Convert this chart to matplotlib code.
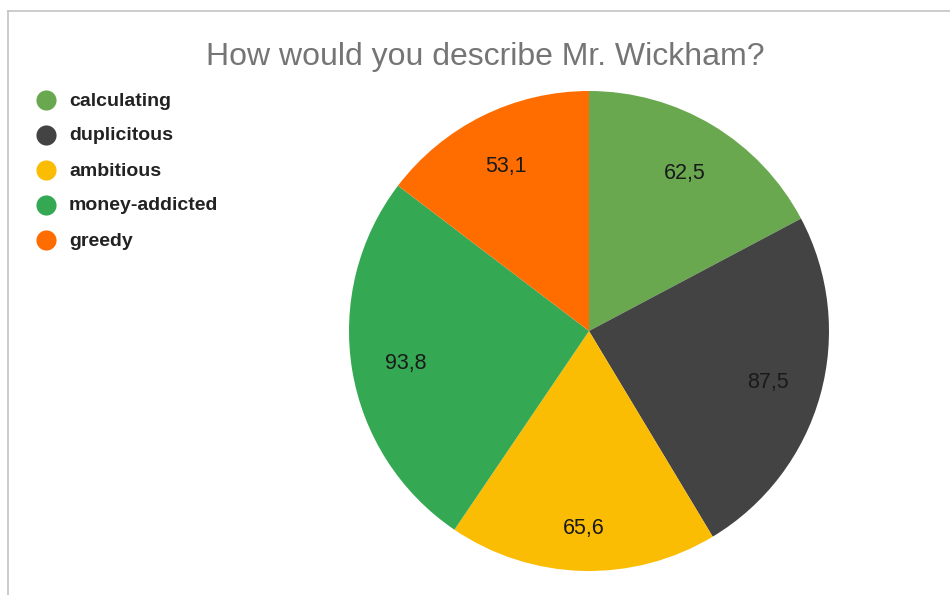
import matplotlib.pyplot as plt
import matplotlib.transforms as mtransforms
from matplotlib.lines import Line2D

plt.rcParams['font.family'] = ['Liberation Sans', 'DejaVu Sans']

# antworten und prozente
kategorie = ["calculating", "duplicitous", "ambitious", "money-addicted", "greedy"]
wartosci = [62.5, 87.5, 65.6, 93.8, 53.1]
kolory = ["#6aa84f", "#434343", "#fbbc04", "#34a853", "#ff6d01"]
tytul = "How would you describe Mr. Wickham?"

W, H = 950, 595
fig = plt.figure(figsize=(W / 100, H / 100), dpi=100)
fig.patch.set_facecolor("white")

# kolo: srodek (589, 331), promien 240 px
ax = fig.add_axes([(589 - 240) / W, (H - 571) / H, 480 / W, 480 / H])
wedges, teksty = ax.pie(
    wartosci,
    colors=kolory,
    startangle=90,
    counterclock=False,
    labels=[f"{v:.1f}".replace(".", ",") for v in wartosci],
    labeldistance=0.775,
    wedgeprops=dict(linewidth=0),
    textprops=dict(fontsize=15.5, color="#1a1a1a"),
)
for i, t in enumerate(teksty):
    t.set_horizontalalignment("center")
    t.set_verticalalignment("center")
    # etykieta na dole kola jest odsunieta troche dalej
    dy = -12 if i == 2 else -2
    t.set_transform(t.get_transform() +
                    mtransforms.ScaledTranslation(0, dy / 100, fig.dpi_scale_trans))
ax.set_xlim(-1, 1)
ax.set_ylim(-1, 1)
ax.set_aspect("equal")

fig.text(485 / W, 1 - 57 / H, tytul, ha="center", va="center",
         fontsize=23, color="#757575")

# legenda po lewej
for i, (nazwa, kolor) in enumerate(zip(kategorie, kolory)):
    y = 1 - (100 + 35 * i) / H
    fig.add_artist(Line2D([46 / W], [y], marker="o", markersize=14.5,
                          color=kolor, markeredgewidth=0,
                          transform=fig.transFigure))
    fig.text(69 / W, y - 1 / H, nazwa, ha="left", va="center", fontsize=14,
             fontweight="bold", color="#222222")

# ramka (tylko lewa i gorna krawedz)
ramka = "#c4c4c4"
fig.add_artist(Line2D([7.5 / W, 7.5 / W], [0, 1 - 10.5 / H], color=ramka,
                      linewidth=1.2, transform=fig.transFigure))
fig.add_artist(Line2D([7.5 / W, 1], [1 - 10.5 / H, 1 - 10.5 / H], color=ramka,
                      linewidth=1.2, transform=fig.transFigure))

fig.savefig("out.png", dpi=100)
